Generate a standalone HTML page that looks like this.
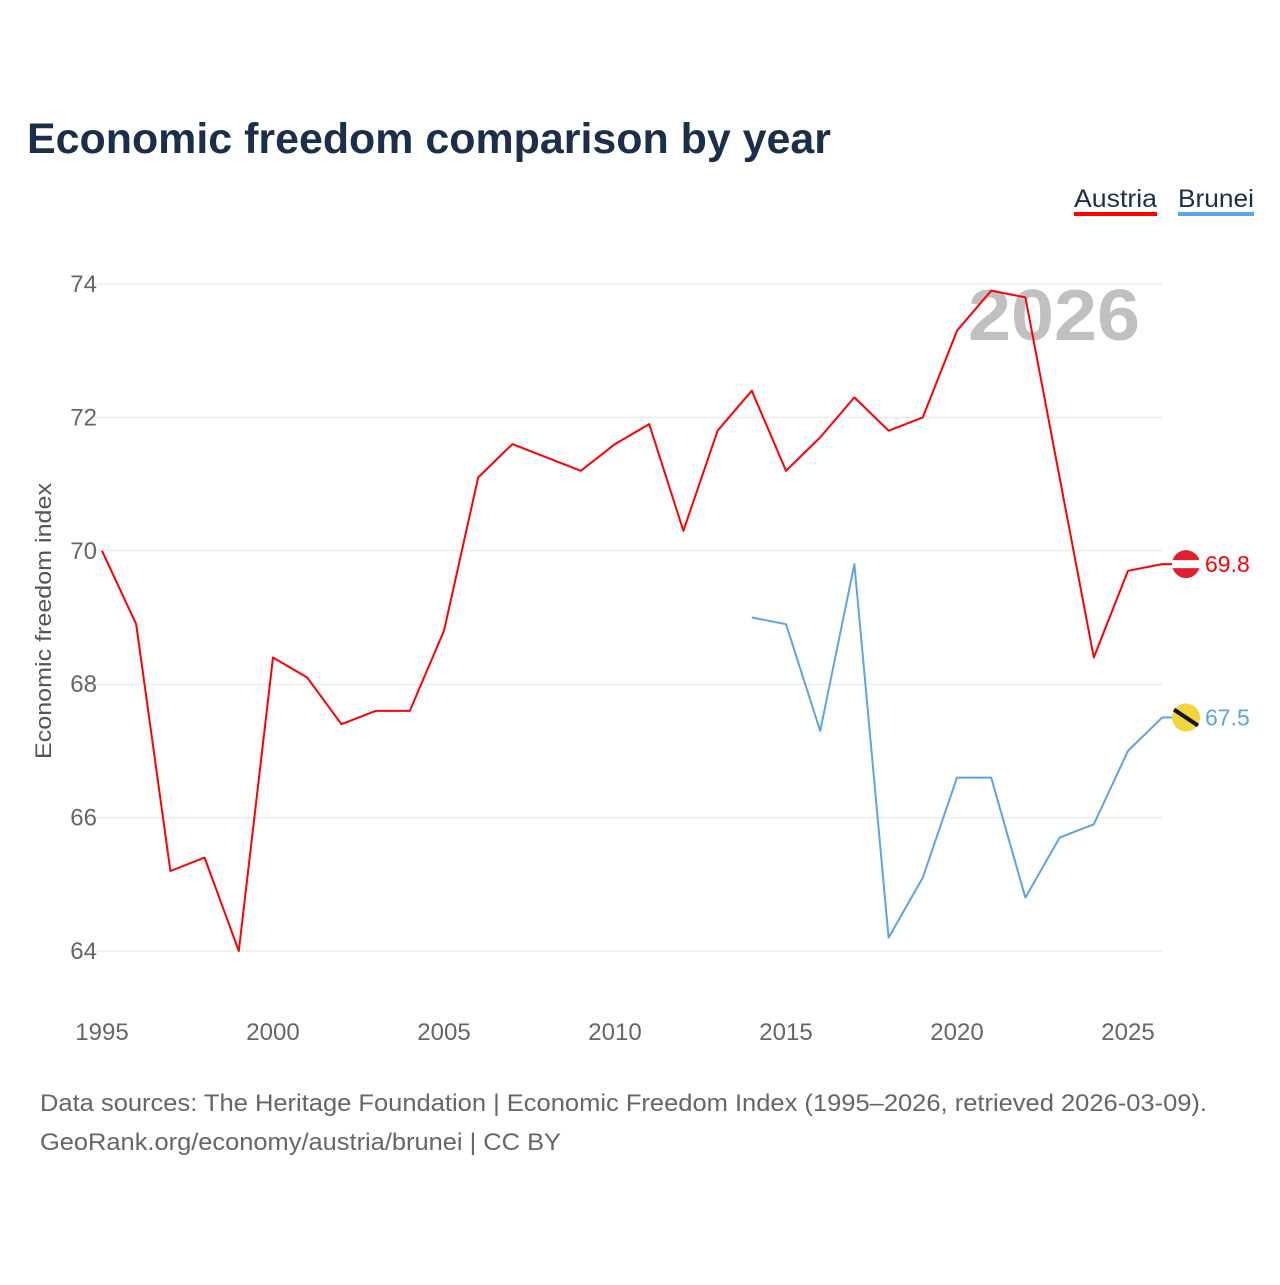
<!DOCTYPE html>
<html><head><meta charset="utf-8">
<style>
body{margin:0;background:#fff;width:1280px;height:1280px;overflow:hidden;font-family:"Liberation Sans",sans-serif}
</style></head>
<body>
<svg width="1280" height="1280" id="chart" font-family="Liberation Sans, sans-serif">
<text x="27" y="153" font-size="43" font-weight="bold" fill="#1b2e4b" textLength="804" lengthAdjust="spacingAndGlyphs">Economic freedom comparison by year</text>
<g>
<text x="1074" y="207" font-size="25" fill="#1b2e4b" textLength="83" lengthAdjust="spacingAndGlyphs">Austria</text>
<rect x="1074" y="212" width="83" height="4" fill="#ff0000"/>
<text x="1178" y="207" font-size="25" fill="#1b2e4b" textLength="76" lengthAdjust="spacingAndGlyphs">Brunei</text>
<rect x="1178" y="212" width="76" height="4" fill="#5ba4e8"/>
</g>
<text x="968" y="340" font-size="72" font-weight="bold" fill="#c0c0c0" textLength="172" lengthAdjust="spacingAndGlyphs">2026</text>
<g id="grid"></g>
<g id="xt"></g>
<text transform="translate(51,621) rotate(-90)" font-size="22" fill="#555" text-anchor="middle" textLength="276" lengthAdjust="spacingAndGlyphs">Economic freedom index</text>
<g id="series"></g>
<text x="40" y="1111" font-size="24" fill="#666" textLength="1167" lengthAdjust="spacingAndGlyphs">Data sources: The Heritage Foundation | Economic Freedom Index (1995–2026, retrieved 2026-03-09).</text>
<text x="40" y="1150" font-size="24" fill="#666" textLength="521" lengthAdjust="spacingAndGlyphs">GeoRank.org/economy/austria/brunei | CC BY</text>
</svg>
<script>
const years=[1995,1996,1997,1998,1999,2000,2001,2002,2003,2004,2005,2006,2007,2008,2009,2010,2011,2012,2013,2014,2015,2016,2017,2018,2019,2020,2021,2022,2023,2024,2025,2026];
const austria=[70.0,68.9,65.2,65.4,64.0,68.4,68.1,67.4,67.6,67.6,68.8,71.1,71.6,71.4,71.2,71.6,71.9,70.3,71.8,72.4,71.2,71.7,72.3,71.8,72.0,73.3,73.9,73.8,71.1,68.4,69.7,69.8];
const brunei=[null,null,null,null,null,null,null,null,null,null,null,null,null,null,null,null,null,null,null,69.0,68.9,67.3,69.8,64.2,65.1,66.6,66.6,64.8,65.7,65.9,67.0,67.5];
const yTicks=[64,66,68,70,72,74];
const xTicks=[1995,2000,2005,2010,2015,2020,2025];
const NS="http://www.w3.org/2000/svg";
const X=y=>102+(y-1995)*(1128-102)/30;
const Y=v=>951-(v-64)*(951-284)/10;
function mk(tag,attrs,parent,txt){const e=document.createElementNS(NS,tag);for(const k in attrs)e.setAttribute(k,attrs[k]);if(txt!=null)e.textContent=txt;parent.appendChild(e);return e;}
const grid=document.getElementById('grid');
yTicks.forEach(t=>{
 const l=mk('line',{x1:95,x2:1162,y1:Y(t),y2:Y(t),stroke:'#e6e6e6','stroke-width':1},grid);
 
 
 const tx=mk('text',{x:97,y:Y(t)+8,'font-size':24,fill:'#666','text-anchor':'end'},grid,t);
 
 
});
const xt=document.getElementById('xt');
xTicks.forEach(t=>{
 const tx=mk('text',{x:X(t),y:1040,'font-size':24,fill:'#666','text-anchor':'middle'},xt,t);
 
 
});
const S=document.getElementById('series');
function draw(vals,color,name){
 let d='';let started=false;let last=null;
 vals.forEach((v,i)=>{if(v==null)return;d+=(started?'L':'M')+X(years[i]).toFixed(1)+','+Y(v).toFixed(1);started=true;last=[years[i],v];});
 d+='L1172,'+Y(last[1]).toFixed(1);
 const p=mk('path',{d:d,fill:'none',stroke:color,'stroke-width':2,'stroke-linejoin':'round'},S);
 
 
 const c=mk('circle',{cx:1186,cy:Y(last[1]),r:14,fill:name==='austria'?'#e0202e':'#f5d63a'},S);
 
 
 if(name==='austria'){mk('rect',{x:1172,y:Y(last[1])-4,width:28,height:8,fill:'#fff'},S);}
 else{mk('line',{x1:1174,y1:Y(last[1])-8,x2:1198,y2:Y(last[1])+8,stroke:'#111','stroke-width':4},S);}
 const l=mk('text',{x:1205,y:Y(last[1])+8,'font-size':23,fill:color},S,last[1].toFixed(1));
 
 
}
draw(austria,'#ff0000','austria');
draw(brunei,'#5ba4e8','brunei');
</script>
</body></html>
